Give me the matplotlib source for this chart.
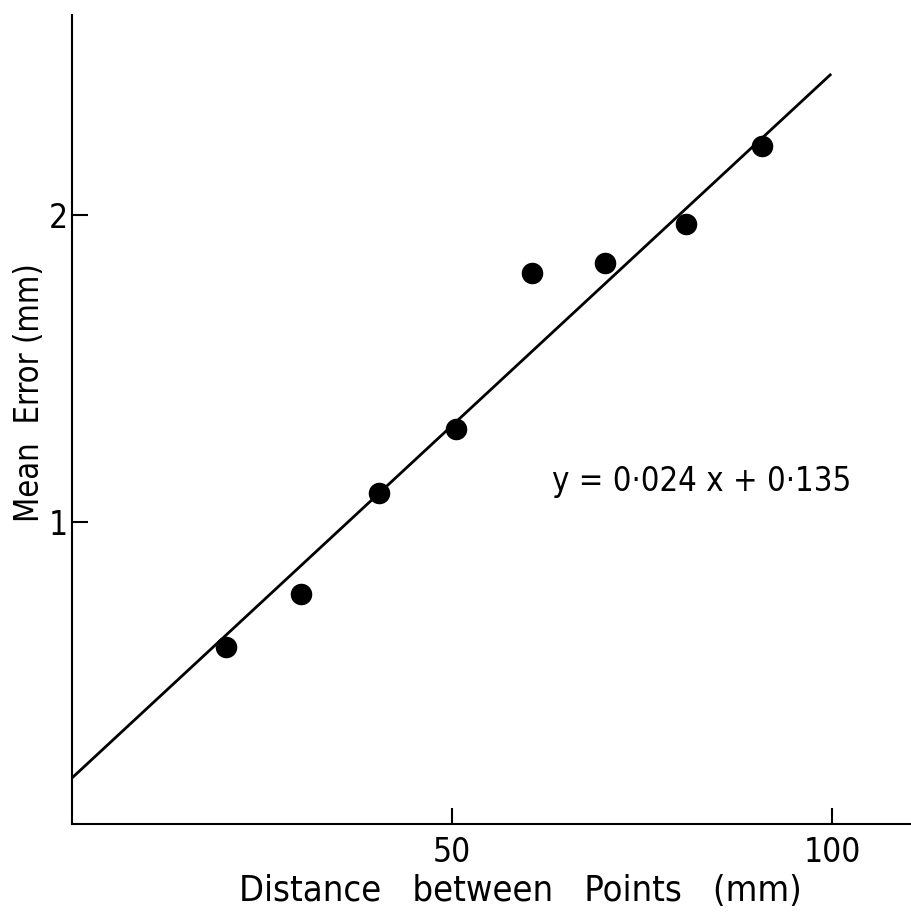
# mean error vs distance between points, with fitted line

import matplotlib
matplotlib.use("Agg")
import matplotlib.pyplot as plt

distance = [20.3, 30.1, 40.4, 50.5, 60.5, 70.1, 80.8, 90.8]
meanError = [0.593, 0.765, 1.094, 1.303, 1.811, 1.844, 1.971, 2.225]

fitX = [0.0, 99.9]
fitY = [0.166, 2.459]

xTicks = [50, 100]
yTicks = [1, 2]
equation = "y = 0\u00b7024 x + 0\u00b7135"

plt.rcParams['font.family'] = ['DejaVu Sans']
plt.rcParams['font.stretch'] = 'condensed'

fig = plt.figure(figsize=(9.11, 9.23), dpi=100)
ax = fig.add_axes([72 / 911, 99 / 923, 839 / 911, 809 / 923])

ax.plot(fitX, fitY, color="black", linewidth=2, solid_capstyle="butt")
ax.plot(distance, meanError, "o", color="black", markersize=14.5)

ax.text(63.2, 1.13, equation, fontsize=23.5, ha="left", va="center")

ax.set_xlim(0, 110.4)
ax.set_ylim(0.016, 2.651)
ax.set_xticks(xTicks)
ax.set_yticks(yTicks)
ax.tick_params(direction="in", length=11.5, width=1.5, labelsize=24)
ax.tick_params(axis="x", pad=9)
ax.tick_params(axis="y", pad=3)

for side in ["top", "right"]:
    ax.spines[side].set_visible(False)
for side in ["left", "bottom"]:
    ax.spines[side].set_linewidth(1.5)

ax.set_xlabel("Distance   between   Points   (mm)", fontsize=26)
ax.xaxis.set_label_coords(0.535, -0.062)
ax.set_ylabel("Mean  Error (mm)", fontsize=23.5)
ax.yaxis.set_label_coords(-0.031, 0.533)

fig.savefig("out.png", dpi=100)
